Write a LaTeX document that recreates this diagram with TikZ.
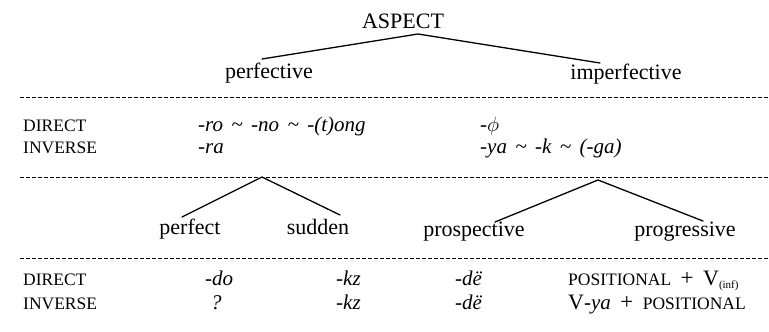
\documentclass[tikz,border=0pt]{standalone}
\usepackage{fontspec}
\setmainfont{Liberation Serif}
\newcommand\swg{\hspace{0.4em}\textasciitilde\hspace{0.4em}}
\newcommand\smc[1]{{\fontsize{17.5}{20}\selectfont #1}}
\newcommand\plus{\hspace{0.45em}{\fontsize{23}{24}\selectfont +}\hspace{0.45em}}
\begin{document}
\begin{tikzpicture}[x=1pt,y=-1pt,
  treelab/.style={font=\fontsize{22}{26}\selectfont, anchor=base, inner sep=0pt},
  rowlab/.style={font=\fontsize{17.5}{20}\selectfont, anchor=base west, inner sep=0pt},
  formtxt/.style={font=\fontsize{21}{24}\selectfont\itshape, anchor=base west, inner sep=0pt},
  mixtxt/.style={font=\fontsize{21}{24}\selectfont, anchor=base west, inner sep=0pt},
  branch/.style={line width=1.3pt, line cap=round},
  sepline/.style={line width=0.9pt, dash pattern=on 4pt off 2pt}]
\useasboundingbox (0,0) rectangle (769,332);

% top tree
\node[treelab] (aspect) at (403,28) {ASPECT};
\node[treelab] (perfv) at (269,78) {perfective};
\node[treelab] (imperfv) at (626,79) {imperfective};
\coordinate (aspB) at (418,34);
\coordinate (perfvT) at (262,59);
\coordinate (imperfvT) at (600,63);
\draw[branch] (perfvT) -- (aspB) -- (imperfvT);

% separators
\coordinate (s1a) at (20,97);  \coordinate (s1b) at (769,97);
\coordinate (s2a) at (20,177); \coordinate (s2b) at (769,177);
\coordinate (s3a) at (20,258); \coordinate (s3b) at (769,258);
\draw[sepline] (s1a) -- (s1b);
\draw[sepline] (s2a) -- (s2b);
\draw[sepline] (s3a) -- (s3b);

% first table rows
\node[rowlab] (dir1) at (23,131) {DIRECT};
\node[rowlab] (inv1) at (23,153) {INVERSE};
\node[formtxt] (f11) at (198,131) {-ro\swg -no\swg -(t)ong};
\node[formtxt] (f21) at (198,153) {-ra};
\node[formtxt] (f12) at (480,131) {-$\phi$};
\node[formtxt] (f22) at (480,153) {-ya\swg -k\swg (-ga)};

% lower trees
\coordinate (lapex) at (262,177);
\coordinate (perfT) at (182,217);
\coordinate (suddT) at (340,215);
\draw[branch] (perfT) -- (lapex) -- (suddT);
\node[treelab] (perf) at (190,234) {perfect};
\node[treelab] (sudd) at (318,234) {sudden};

\coordinate (rapex) at (598,180);
\coordinate (prospT) at (495,222);
\coordinate (progT) at (703,221);
\draw[branch] (prospT) -- (rapex) -- (progT);
\node[treelab] (prosp) at (474,236) {prospective};
\node[treelab] (prog) at (685,236) {progressive};

% second table rows
\node[rowlab] (dir2) at (23,285) {DIRECT};
\node[rowlab] (inv2) at (23,309) {INVERSE};
\node[formtxt] (g11) at (205,285) {-do};
\node[formtxt] (g21) at (211,309) {?};
\node[formtxt] (g12) at (336,285) {-kz};
\node[formtxt] (g22) at (336,309) {-kz};
\node[formtxt] (g13) at (455,285) {-dë};
\node[formtxt] (g23) at (455,309) {-dë};
\node[mixtxt] (g14) at (568,285) {\smc{POSITIONAL}\plus{\fontsize{22}{24}\selectfont V}\raisebox{-3pt}{\fontsize{11}{12}\selectfont (inf)}};
\node[mixtxt] (g24) at (568,309) {{\fontsize{22}{24}\selectfont V}-\textit{ya}\plus\smc{POSITIONAL}};
\end{tikzpicture}
\end{document}
